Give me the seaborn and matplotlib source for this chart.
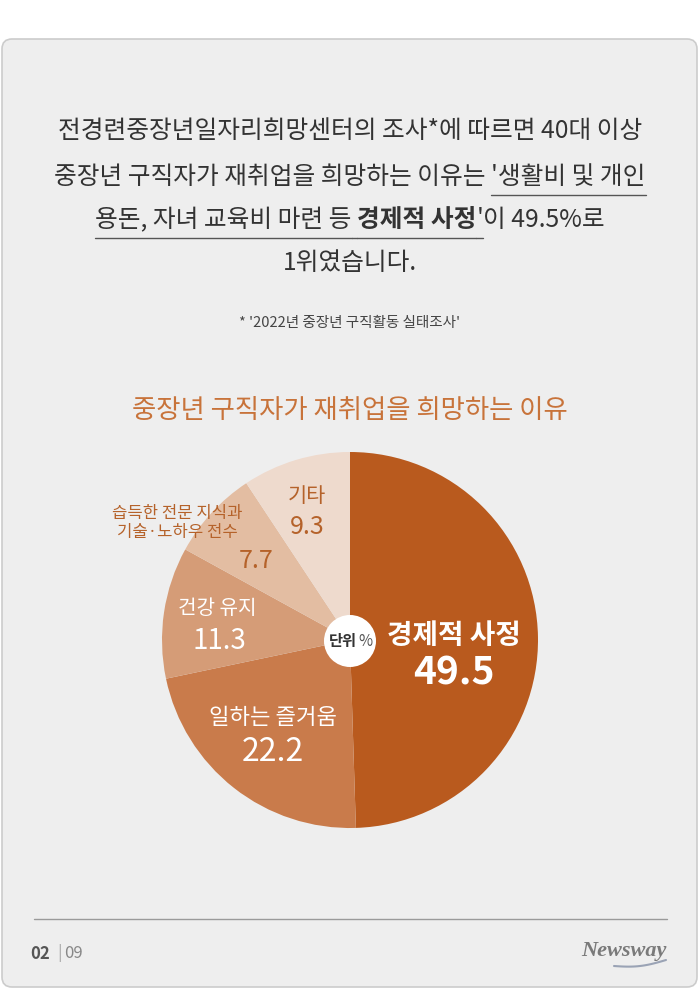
import numpy as np
import pandas as pd
import matplotlib
matplotlib.use("Agg")
import matplotlib.pyplot as plt
import seaborn as sns
from matplotlib.patches import FancyBboxPatch, Circle

# ---------------- data ----------------
categories = ["경제적 사정", "일하는 즐거움", "건강 유지", "습득한 전문 지식과\n기술·노하우 전수", "기타"]
values = [49.5, 22.2, 11.3, 7.7, 9.3]
value_labels = ["49.5", "22.2", "11.3", "7.7", "9.3"]
slice_colors = ["#B95A1E", "#C97B4B", "#D59C77", "#E3BDA2", "#EEDACD"]

title = "중장년 구직자가 재취업을 희망하는 이유"
footnote = "* '2022년 중장년 구직활동 실태조사'"

# ---------------- style ----------------
sns.set_theme(style="white")
plt.rcParams['font.family'] = ['Noto Sans CJK KR', 'DejaVu Sans']

W, H = 700, 990
fig = plt.figure(figsize=(7, 9.9), dpi=100)
fig.patch.set_facecolor("white")

bg = fig.add_axes([0, 0, 1, 1])
bg.set_xlim(0, W); bg.set_ylim(H, 0); bg.axis('off')
card = FancyBboxPatch((2, 39), 695, 948, boxstyle="round,pad=0,rounding_size=10",
                      fc="#EEEEEE", ec="#CCCCCC", lw=1.2)
bg.add_patch(card)

# ---------------- pie ----------------
cx, cy, r = 350, 640, 188
ax = fig.add_axes([(cx - r) / W, (H - cy - r) / H, 2 * r / W, 2 * r / H])
df = pd.DataFrame({"category": categories, "value": values})
ax.pie(df["value"], colors=sns.color_palette(slice_colors), startangle=90,
       counterclock=False, radius=1, wedgeprops=dict(linewidth=0))
ax.set_xlim(-1, 1); ax.set_ylim(-1, 1)
ax.axis('off')

# ---------------- overlay text ----------------
ov = fig.add_axes([0, 0, 1, 1], zorder=5)
ov.set_xlim(0, W); ov.set_ylim(H, 0); ov.axis('off')
ov.patch.set_alpha(0)

renderer = fig.canvas.get_renderer()
BODY = "#333333"
FS = 17.8

def twidth(s, weight='normal', size=FS):
    t = ov.text(0, 0, s, fontsize=size, fontweight=weight)
    w = t.get_window_extent(renderer).width
    t.remove()
    return w

SPACE = twidth("가 가") - twidth("가가")

def draw_line(y, segments, center=350):
    # segments: (text, bold, underline); text None = space
    items = []
    for s, b, u in segments:
        if s is None:
            items.append((None, SPACE, b, u))
        else:
            items.append((s, twidth(s, 'bold' if b else 'normal'), b, u))
    total = sum(i[1] for i in items)
    x = center - total / 2
    for s, w, b, u in items:
        if s is not None:
            ov.text(x, y, s, fontsize=FS, fontweight='bold' if b else 'normal',
                    color=BODY, ha='left', va='center')
        if u:
            ov.plot([x, x + w], [y + 18, y + 18], color="#555555", lw=1.0)
        x += w

draw_line(131, [("전경련중장년일자리희망센터의 조사*에 따르면 40대 이상", False, False)])
draw_line(177, [("중장년 구직자가 재취업을 희망하는 이유는", False, False), (None, False, False),
                ("'생활비 및 개인", False, True)])
draw_line(220, [("용돈, 자녀 교육비 마련 등", False, True), (None, False, True),
                ("경제적 사정", True, True), ("'", False, True), ("이 49.5%로", False, False)])
draw_line(263, [("1위였습니다.", False, False)])

ov.text(350, 323, footnote, fontsize=10.5, color="#444444", ha='center', va='center')
ov.text(350, 410, title, fontsize=19, color="#C8733A", ha='center', va='center')

# slice labels
LBR = "#B5622A"
ov.text(454, 636, categories[0], fontsize=20, fontweight='bold', color='white', ha='center', va='center')
ov.text(454, 673, value_labels[0], fontsize=28, fontweight='bold', color='white', ha='center', va='center')
ov.text(273, 718, categories[1], fontsize=16, color='white', ha='center', va='center')
ov.text(273, 752, value_labels[1], fontsize=23, color='white', ha='center', va='center')
ov.text(217, 608, categories[2], fontsize=14.5, color='white', ha='center', va='center')
ov.text(219, 641, value_labels[2], fontsize=20, color='white', ha='center', va='center')
ov.text(177, 523, categories[3], fontsize=12, color=LBR, ha='center', va='center', linespacing=1.1)
ov.text(256, 561, value_labels[3], fontsize=18, color=LBR, ha='center', va='center')
ov.text(307, 496, categories[4], fontsize=15, color=LBR, ha='center', va='center')
ov.text(307, 527, value_labels[4], fontsize=18, color=LBR, ha='center', va='center')

# unit circle
ov.add_patch(Circle((350, 641), 26, fc='white', ec='none'))
ov.text(357, 641, "단위", fontsize=11, fontweight='bold', color="#333333", ha='right', va='center')
ov.text(358, 641, "%", fontsize=11, color="#555555", ha='left', va='center')

# footer
ov.plot([34, 667], [919, 919], color="#9A9A9A", lw=1)
ov.text(30, 954, "02", fontsize=12, fontweight='bold', color="#555555", ha='left', va='center')
ov.text(57, 953, "|", fontsize=12, color="#AAAAAA", ha='left', va='center')
ov.text(64, 954, "09", fontsize=12, color="#888888", ha='left', va='center')
ov.text(667, 951, "Newsway", fontsize=16, family='Liberation Serif', style='italic',
        fontweight='bold', color="#7A7A7A", ha='right', va='center')
tt = np.linspace(0, 1, 30)
ov.plot(614 + 52 * tt, 966 - 6 * tt + 3 * np.sin(np.pi * tt), color="#9AA3B5", lw=1.5)

fig.savefig("out.png", dpi=100, facecolor="white")
